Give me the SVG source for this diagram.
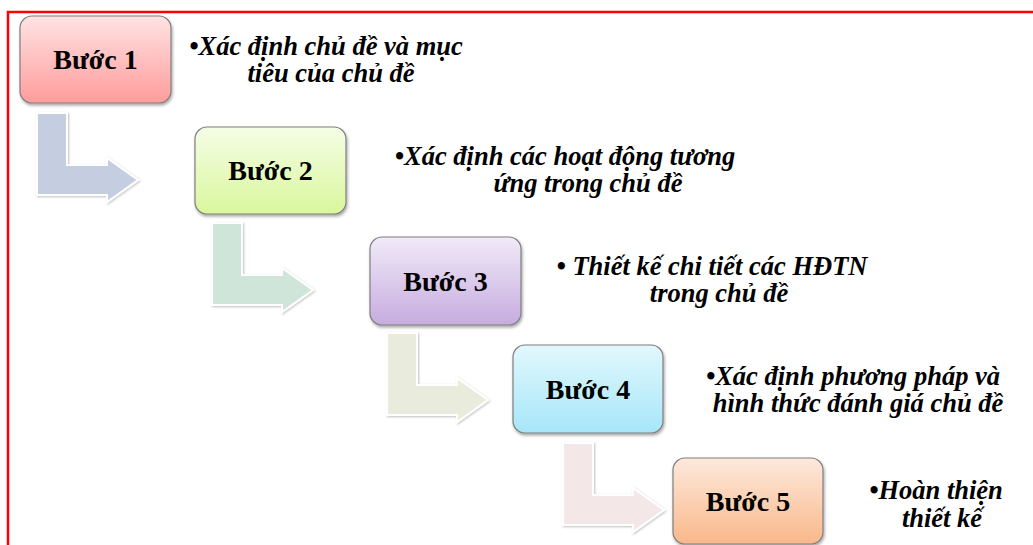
<svg xmlns="http://www.w3.org/2000/svg" width="1033" height="545" viewBox="0 0 1033 545">
<defs>
<linearGradient id="g1" x1="0" y1="0" x2="0" y2="1"><stop offset="0" stop-color="#ffe3e3"/><stop offset="1" stop-color="#ff9c9c"/></linearGradient>
<linearGradient id="g2" x1="0" y1="0" x2="0" y2="1"><stop offset="0" stop-color="#f5fde6"/><stop offset="1" stop-color="#d9f79c"/></linearGradient>
<linearGradient id="g3" x1="0" y1="0" x2="0" y2="1"><stop offset="0" stop-color="#f1eaf8"/><stop offset="1" stop-color="#c6acdf"/></linearGradient>
<linearGradient id="g4" x1="0" y1="0" x2="0" y2="1"><stop offset="0" stop-color="#e2f8fd"/><stop offset="1" stop-color="#a6e6f8"/></linearGradient>
<linearGradient id="g5" x1="0" y1="0" x2="0" y2="1"><stop offset="0" stop-color="#fde9dc"/><stop offset="1" stop-color="#f9b88a"/></linearGradient>
<filter id="sh" x="-10%" y="-10%" width="125%" height="130%"><feDropShadow dx="1" dy="2" stdDeviation="1.5" flood-color="#000" flood-opacity="0.35"/></filter>
<filter id="ash" x="-10%" y="-10%" width="125%" height="125%"><feDropShadow dx="1" dy="1" stdDeviation="1.2" flood-color="#000" flood-opacity="0.25"/></filter>
<path id="arr" d="M0,0 H30 V52 H70 V45 L101,67 L70,89 V82 H0 Z"/>
</defs>
<style>
.box{stroke:#7f7f7f;stroke-width:1.2;filter:url(#sh)}
.lbl{font-family:"Liberation Serif","Times New Roman",serif;font-weight:bold;font-size:28px;fill:#000;text-anchor:middle}
.desc{font-family:"Liberation Serif","Times New Roman",serif;font-weight:bold;font-style:italic;font-size:26.5px;fill:#000;text-anchor:middle}
.arrow{stroke:#fff;stroke-width:2;filter:url(#ash)}
</style>
<rect x="0" y="0" width="1033" height="545" fill="#fff"/>
<rect x="8" y="12" width="1040" height="560" fill="none" stroke="#ff0000" stroke-width="2.5"/>
<g id="connectors">
<use href="#arr" x="37" y="113" class="arrow" fill="#c4cee0"/>
<use href="#arr" x="212" y="223" class="arrow" fill="#cfe5da"/>
<use href="#arr" x="387" y="333" class="arrow" fill="#e9ecdd"/>
<use href="#arr" x="563" y="443" class="arrow" fill="#f3e7e7"/>
</g>
<g id="step1">
<rect class="box" x="20" y="16" width="151" height="87" rx="12" fill="url(#g1)"/>
<text class="lbl" x="95.5" y="69">Bước 1</text>
<text class="desc"><tspan x="326" y="55">•Xác định chủ đề và mục</tspan><tspan x="331" y="82">tiêu của chủ đề</tspan></text>
</g>
<g id="step2">
<rect class="box" x="195" y="127" width="151" height="87" rx="12" fill="url(#g2)"/>
<text class="lbl" x="270.5" y="180">Bước 2</text>
<text class="desc"><tspan x="565" y="165">•Xác định các hoạt động tương</tspan><tspan x="588" y="192">ứng trong chủ đề</tspan></text>
</g>
<g id="step3">
<rect class="box" x="370" y="237" width="151" height="88" rx="12" fill="url(#g3)"/>
<text class="lbl" x="445.5" y="291">Bước 3</text>
<text class="desc"><tspan x="712" y="275">• Thiết kế chi tiết các HĐTN</tspan><tspan x="719" y="302">trong chủ đề</tspan></text>
</g>
<g id="step4">
<rect class="box" x="513" y="345" width="150" height="88" rx="12" fill="url(#g4)"/>
<text class="lbl" x="588" y="399">Bước 4</text>
<text class="desc"><tspan x="853" y="385">•Xác định phương pháp và</tspan><tspan x="858" y="412">hình thức đánh giá chủ đề</tspan></text>
</g>
<g id="step5">
<rect class="box" x="673" y="458" width="150" height="86" rx="12" fill="url(#g5)"/>
<text class="lbl" x="748" y="511">Bước 5</text>
<text class="desc"><tspan x="936" y="499">•Hoàn thiện</tspan><tspan x="942" y="527">thiết kế</tspan></text>
</g>
</svg>
